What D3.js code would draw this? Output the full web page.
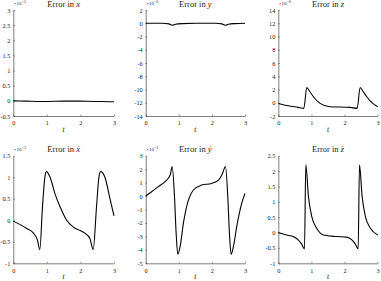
<!DOCTYPE html>
<html>
<head>
<meta charset="utf-8">
<script src="https://cdn.jsdelivr.net/npm/d3@7"></script>
<style>
  body { margin: 0; background: #fff; }
  svg text { font-family: "Liberation Serif", "DejaVu Serif", serif; fill: #1a1a1a; }
</style>
</head>
<body>
<svg id="fig" width="381" height="281"></svg>
<script>
// time axis ticks, shared by all panels
var tTicks = [0, 1, 2, 3]

// error in x (x10^-5)
var errXt = [0, 0.4, 0.8, 1.0, 1.5, 2.0, 2.4, 2.6, 3.0]
var errXv = [0, -0.01, -0.02, -0.02, -0.01, -0.01, -0.02, -0.02, -0.03]

// error in y (x10^-6)
var errYt = [0, 0.5, 0.7, 0.8, 0.9, 1.1, 1.5, 2.1, 2.3, 2.4, 2.5, 2.7, 3.0]
var errYv = [0, 0, -0.1, -0.3, -0.15, -0.05, 0, 0, -0.1, -0.3, -0.15, -0.05, 0]

// error in z (x10^-6)
var errZt = [0, 0.3, 0.6, 0.77, 0.86, 0.95, 1.06, 1.26, 1.56, 2.17, 2.38, 2.47, 2.56, 2.67, 2.85, 3.0]
var errZv = [-0.1, -0.45, -0.7, -0.85, 2.3, 1.7, 0.9, -0.1, -0.6, -0.7, -0.85, 2.3, 1.7, 0.9, -0.1, -0.6]

// error in x-dot (x10^-3)
var errXdt = [0, 0.4, 0.6, 0.72, 0.79, 0.87, 0.94, 0.99, 1.09, 1.24, 1.39, 1.59, 1.79, 1.99, 2.13, 2.28, 2.38, 2.48, 2.55, 2.6, 2.73, 2.88, 3.0]
var errXdv = [-0.02, -0.19, -0.3, -0.46, -0.68, 0.32, 1.0, 1.13, 1.01, 0.62, 0.32, 0, -0.16, -0.24, -0.3, -0.42, -0.68, 0.32, 1.0, 1.13, 1.0, 0.5, 0.1]

// error in y-dot (x10^-3)
var errYdt = [0, 0.18, 0.38, 0.58, 0.74, 0.8, 0.87, 0.92, 0.97, 1.04, 1.14, 1.29, 1.44, 1.69, 1.99, 2.2, 2.32, 2.41, 2.48, 2.53, 2.58, 2.65, 2.75, 2.9, 3.0]
var errYdv = [0, 0.32, 0.7, 1.06, 1.56, 2.2, -0.05, -2.77, -4.33, -3.76, -2.0, -0.3, 0.45, 0.82, 0.94, 1.19, 1.68, 2.2, -0.05, -2.77, -4.33, -3.76, -2.28, -0.55, 0.2]

// error in z-dot
var errZdt = [0, 0.25, 0.45, 0.6, 0.7, 0.79, 0.83, 0.91, 1.01, 1.16, 1.36, 1.76, 2.06, 2.22, 2.32, 2.41, 2.45, 2.53, 2.63, 2.78, 3.0]
var errZdv = [0, -0.08, -0.13, -0.24, -0.37, -0.53, 2.2, 1.17, 0.52, 0.14, -0.08, -0.13, -0.15, -0.24, -0.37, -0.53, 2.2, 1.17, 0.52, 0.14, -0.08]

// y ticks for each panel
var yTicksX = [-0.5, 0, 0.5, 1, 1.5, 2, 2.5, 3]
var yTicksY = [-14, -12, -10, -8, -6, -4, -2, 0, 2]
var yTicksZ = [-2, 0, 2, 4, 6, 8, 10, 12, 14]
var yTicksXd = [-1, -0.5, 0, 0.5, 1, 1.5]
var yTicksYd = [-5, -4, -3, -2, -1, 0, 1, 2, 3]
var yTicksZd = [-1, -0.5, 0, 0.5, 1, 1.5, 2, 2.5]

var panels = [
  {title: "x", dot: false, exp: "-5", t: errXt, v: errXv, ticks: yTicksX, col: 0, row: 0},
  {title: "y", dot: false, exp: "-6", t: errYt, v: errYv, ticks: yTicksY, col: 1, row: 0},
  {title: "z", dot: false, exp: "-6", t: errZt, v: errZv, ticks: yTicksZ, col: 2, row: 0},
  {title: "x", dot: true, exp: "-3", t: errXdt, v: errXdv, ticks: yTicksXd, col: 0, row: 1},
  {title: "y", dot: true, exp: "-3", t: errYdt, v: errYdv, ticks: yTicksYd, col: 1, row: 1},
  {title: "z", dot: true, exp: null, t: errZdt, v: errZdv, ticks: yTicksZd, col: 2, row: 1}
]

var colLeft = [13.3, 145.7, 278.3]
var colRight = [114, 245, 377.7]
var rowTop = [10, 155.7]
var rowBottom = [116, 263.3]

var svg = d3.select("#fig")
var axisColor = "#262626"
var plainNum = function(d) { return String(d) }

panels.forEach(function(p) {
  var x0 = colLeft[p.col], x1 = colRight[p.col]
  var y0 = rowTop[p.row], y1 = rowBottom[p.row]

  var xScale = d3.scaleLinear().domain([0, 3]).range([x0, x1])
  var yScale = d3.scaleLinear().domain(d3.extent(p.ticks)).range([y1, y0])

  var g = svg.append("g")

  // bottom axis
  var xAxis = g.append("g")
    .attr("transform", "translate(0," + y1 + ")")
    .call(d3.axisBottom(xScale).tickValues(tTicks).tickFormat(plainNum)
      .tickSizeInner(-1.5).tickSizeOuter(0).tickPadding(5))
  // left axis
  var yAxis = g.append("g")
    .attr("transform", "translate(" + x0 + ",0)")
    .call(d3.axisLeft(yScale).tickValues(p.ticks).tickFormat(plainNum)
      .tickSizeInner(-1.5).tickSizeOuter(0).tickPadding(3))

  ;[xAxis, yAxis].forEach(function(a) {
    a.attr("font-family", null)
    a.select(".domain").attr("stroke", axisColor).attr("stroke-width", 0.6)
    a.selectAll(".tick line").attr("stroke", axisColor).attr("stroke-width", 0.5)
    a.selectAll(".tick text").attr("font-size", 6.3).attr("fill", axisColor)
  })

  // x label
  g.append("text")
    .attr("x", (x0 + x1) / 2)
    .attr("y", y1 + 15.5)
    .attr("text-anchor", "middle")
    .attr("font-size", 7.5)
    .attr("font-style", "italic")
    .text("t")

  // title
  var title = g.append("text")
    .attr("x", (x0 + x1) / 2)
    .attr("y", y0 - 3.5)
    .attr("text-anchor", "middle")
    .attr("font-size", 8.5)
  title.append("tspan").text("Error in ")
  title.append("tspan").attr("font-style", "italic").text(p.dot ? p.title + "\u0307" : p.title)

  // multiplier
  if (p.exp) {
    var m = g.append("text")
      .attr("x", x0 + 0.5)
      .attr("y", y0 - 5)
      .attr("font-size", 5)
    m.append("tspan").text("\u00d710")
    m.append("tspan").attr("dy", -2).attr("font-size", 4).text(p.exp.replace("-", "\u2212"))
  }

  var line = d3.line()
    .x(function(d, i) { return xScale(p.t[i]) })
    .y(function(d) { return yScale(d) })
    .curve(d3.curveMonotoneX)

  g.append("path")
    .attr("d", line(p.v))
    .attr("fill", "none")
    .attr("stroke", "#000")
    .attr("stroke-width", 1.1)
})
</script>
</body>
</html>
